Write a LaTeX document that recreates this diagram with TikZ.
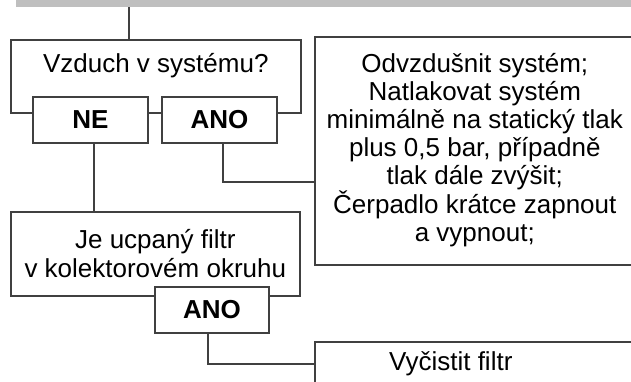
\documentclass[tikz,border=0pt]{standalone}
\usepackage{fontspec}
\setmainfont{Liberation Sans}
\usepackage{tikz}
\usetikzlibrary{calc}
\definecolor{linegray}{HTML}{404040}
\definecolor{bargray}{HTML}{BFBFBF}

\begin{document}
\begin{tikzpicture}[x=1pt,y=-1pt,
  box/.style={draw=linegray,line width=1.6pt,fill=white,inner ysep=0pt,font=\fontsize{26}{28}\selectfont},
  answer/.style={box,font=\fontsize{26}{28}\selectfont\bfseries,minimum width=115pt,minimum height=46pt},
  wire/.style={draw=linegray,line width=1.6pt}]
  \useasboundingbox (0,0) rectangle (631,381);
  \node[fill=bargray,inner sep=0pt,minimum width=624pt,minimum height=27pt,anchor=south west] (prev) at (16,7) {};
  % first question
  \node[box,anchor=north west,minimum width=290pt,text height=32.3pt,text depth=40.7pt] (q1) at (10,39) {Vzduch v systému?};
  \node[answer] (ne) at (90.5,120) {NE};
  \node[answer] (ano1) at (219.5,120) {ANO};
  \node[box,anchor=north west,minimum width=320pt,text height=205pt,text depth=23pt,align=center] (act1) at (314,36)
    {Odvzdušnit systém;\\Natlakovat systém\\minimálně na statický tlak\\plus 0,5 bar, případně\\tlak dále zvýšit;\\Čerpadlo krátce zapnout\\a vypnout;};
  % second question
  \node[box,anchor=north west,minimum width=289pt,text height=66pt,text depth=18pt,align=center] (q2) at (10,211)
    {Je ucpaný filtr\\[1pt]v kolektorovém okruhu};
  \node[answer,minimum width=114pt] (ano2) at (212,310) {ANO};
  \node[box,anchor=north west,minimum width=320pt,minimum height=44pt] (act2) at (314,341) {Vyčistit filtr\hspace*{48pt}};
  % connectors
  \draw[wire] ([xshift=-27pt]q1.north) -- ([xshift=-27pt]q1.north |- prev.south);
  \draw[wire] ([xshift=3.5pt]ne.south) -- ([xshift=3.5pt]ne.south |- q2.north);
  \draw[wire] ([xshift=3.5pt]ano1.south) |- ($(act1.north west)+(0,146)$);
  \draw[wire] ([xshift=-4pt]ano2.south) |- (act2.west);
\end{tikzpicture}
\end{document}
